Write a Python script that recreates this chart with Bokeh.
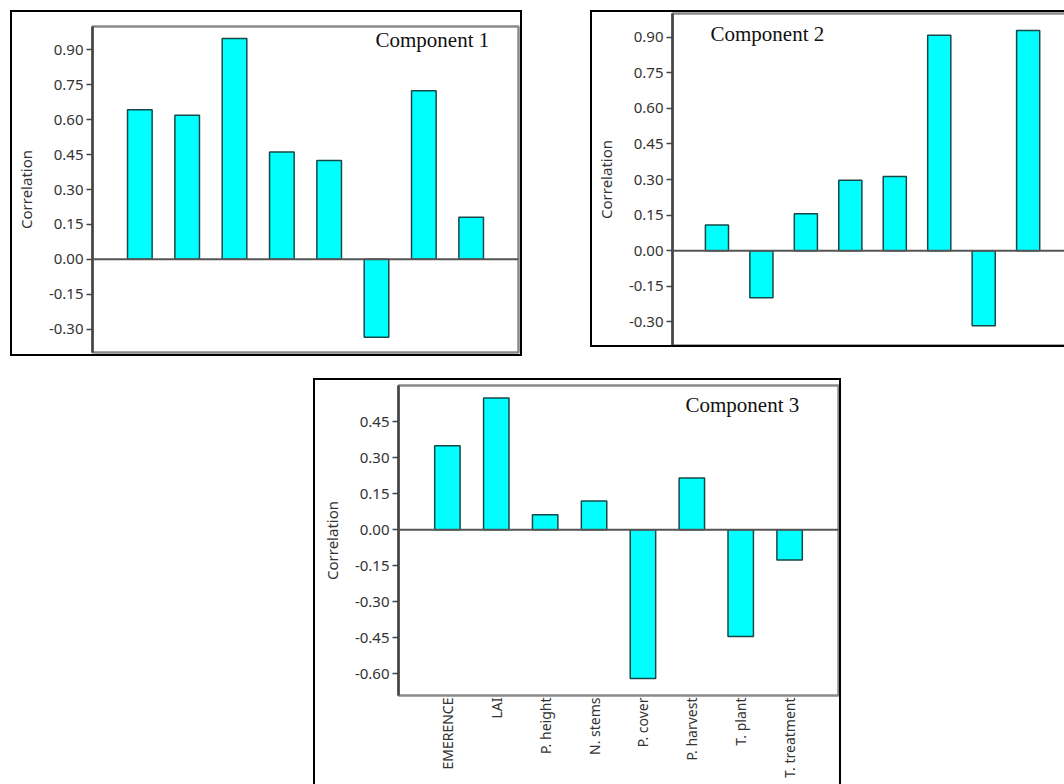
import numpy as np
from bokeh.plotting import figure
from bokeh.models import (FactorRange, Range1d, Span, Label, FixedTicker,
                          NumeralTickFormatter, Spacer)
from bokeh.layouts import column, row
from bokeh.embed import file_html
from bokeh.resources import INLINE

# ---- data ----
variables = ["EMERENCE", "LAI", "P. height", "N. stems", "P. cover",
             "P. harvest", "T. plant", "T. treatment"]
component1 = [0.642, 0.619, 0.948, 0.461, 0.425, -0.334, 0.724, 0.181]
component2 = [0.108, -0.199, 0.156, 0.297, 0.313, 0.908, -0.317, 0.928]
component3 = [0.349, 0.548, 0.062, 0.119, -0.619, 0.215, -0.444, -0.126]
titles = ["Component 1", "Component 2", "Component 3"]
ticks12 = [-0.30, -0.15, 0.00, 0.15, 0.30, 0.45, 0.60, 0.75, 0.90]
ticks3 = [-0.60, -0.45, -0.30, -0.15, 0.00, 0.15, 0.30, 0.45]

FONT = "Noto Sans"
BAR_FILL = "#00FFFF"
BAR_LINE = "#174848"


def style(p, ticks):
    p.toolbar_location = None
    p.frame_align = False
    p.outline_line_color = "#8a8a8a"
    p.outline_line_width = 2.5
    p.background_fill_color = "white"
    p.border_fill_color = "white"
    p.xgrid.visible = False
    p.ygrid.visible = False
    ax = p.yaxis[0]
    ax.ticker = FixedTicker(ticks=ticks)
    ax.formatter = NumeralTickFormatter(format="0.00")
    ax.axis_label = "Correlation"
    ax.axis_label_text_font = FONT
    ax.axis_label_text_font_style = "normal"
    ax.axis_label_text_font_size = "15px"
    ax.axis_label_text_color = "#333333"
    ax.axis_label_standoff = 10
    ax.major_label_text_font = FONT
    ax.major_label_text_font_size = "15px"
    ax.major_label_text_color = "#333333"
    ax.major_label_standoff = 3
    ax.axis_line_color = "#444444"
    ax.axis_line_width = 2.5
    ax.major_tick_line_color = "#444444"
    ax.major_tick_line_width = 1.5
    ax.major_tick_in = 0
    ax.major_tick_out = 6
    ax.minor_tick_line_color = None
    p.add_layout(Span(location=0, dimension="width", line_color="#555555",
                      line_width=2))


def title(p, text, x, y):
    p.add_layout(Label(x=x, y=y, x_units="screen", y_units="screen",
                       text=text, text_font="Liberation Serif",
                       text_font_size="21px", text_color="#111111"))


# ---- panel 1 ----
p1 = figure(width=512, height=346, output_backend="svg", toolbar_location=None,
            title=None,
            x_range=FactorRange(factors=variables, range_padding=0.125),
            y_range=Range1d(-0.40, 1.00),
            min_border_left=80, min_border_right=6, min_border_top=14,
            min_border_bottom=6)
p1.vbar(x=variables, top=component1, width=0.52, fill_color=BAR_FILL,
        line_color=BAR_LINE, line_width=1.5)
style(p1, ticks12)
p1.xaxis.visible = False
title(p1, titles[0], 283, 301)
p1.styles = {"border": "2px solid black"}

# ---- panel 2 ----
x2 = list(np.arange(len(variables)) + 1)
p2 = figure(width=474, height=337, output_backend="svg", toolbar_location=None,
            title=None,
            x_range=Range1d(0, 8.84), y_range=Range1d(-0.40, 1.00),
            min_border_left=75, min_border_right=1, min_border_top=1,
            min_border_bottom=4)
p2.vbar(x=x2, top=component2, width=0.52, fill_color=BAR_FILL,
        line_color=BAR_LINE, line_width=1.5)
style(p2, ticks12)
p2.xaxis.visible = False
title(p2, titles[1], 38, 300)
p2.styles = {"border-left": "2px solid black", "border-top": "2px solid black",
             "border-bottom": "2px solid black"}

# ---- panel 3 ----
p3 = figure(width=528, height=406, output_backend="svg", toolbar_location=None,
            title=None,
            x_range=FactorRange(factors=variables, range_padding=0.125),
            y_range=Range1d(-0.69, 0.60),
            min_border_left=83, min_border_right=5, min_border_top=5,
            min_border_bottom=91)
p3.vbar(x=variables, top=component3, width=0.52, fill_color=BAR_FILL,
        line_color=BAR_LINE, line_width=1.5)
style(p3, ticks3)
xa = p3.xaxis[0]
xa.major_label_orientation = np.pi / 2
xa.major_label_text_font = FONT
xa.major_label_text_font_size = "14px"
xa.major_label_text_color = "#333333"
xa.major_label_standoff = 2
xa.axis_line_color = None
xa.major_tick_line_color = None
xa.major_tick_out = 0
xa.minor_tick_line_color = None
title(p3, titles[2], 287, 279)
p3.styles = {"border-left": "2px solid black", "border-top": "2px solid black",
             "border-right": "2px solid black"}

layout = column(
    Spacer(height=10),
    row(Spacer(width=10), p1, Spacer(width=68), p2),
    Spacer(height=22),
    row(Spacer(width=313), p3),
)

open("out.html", "w").write(file_html(layout, INLINE))
